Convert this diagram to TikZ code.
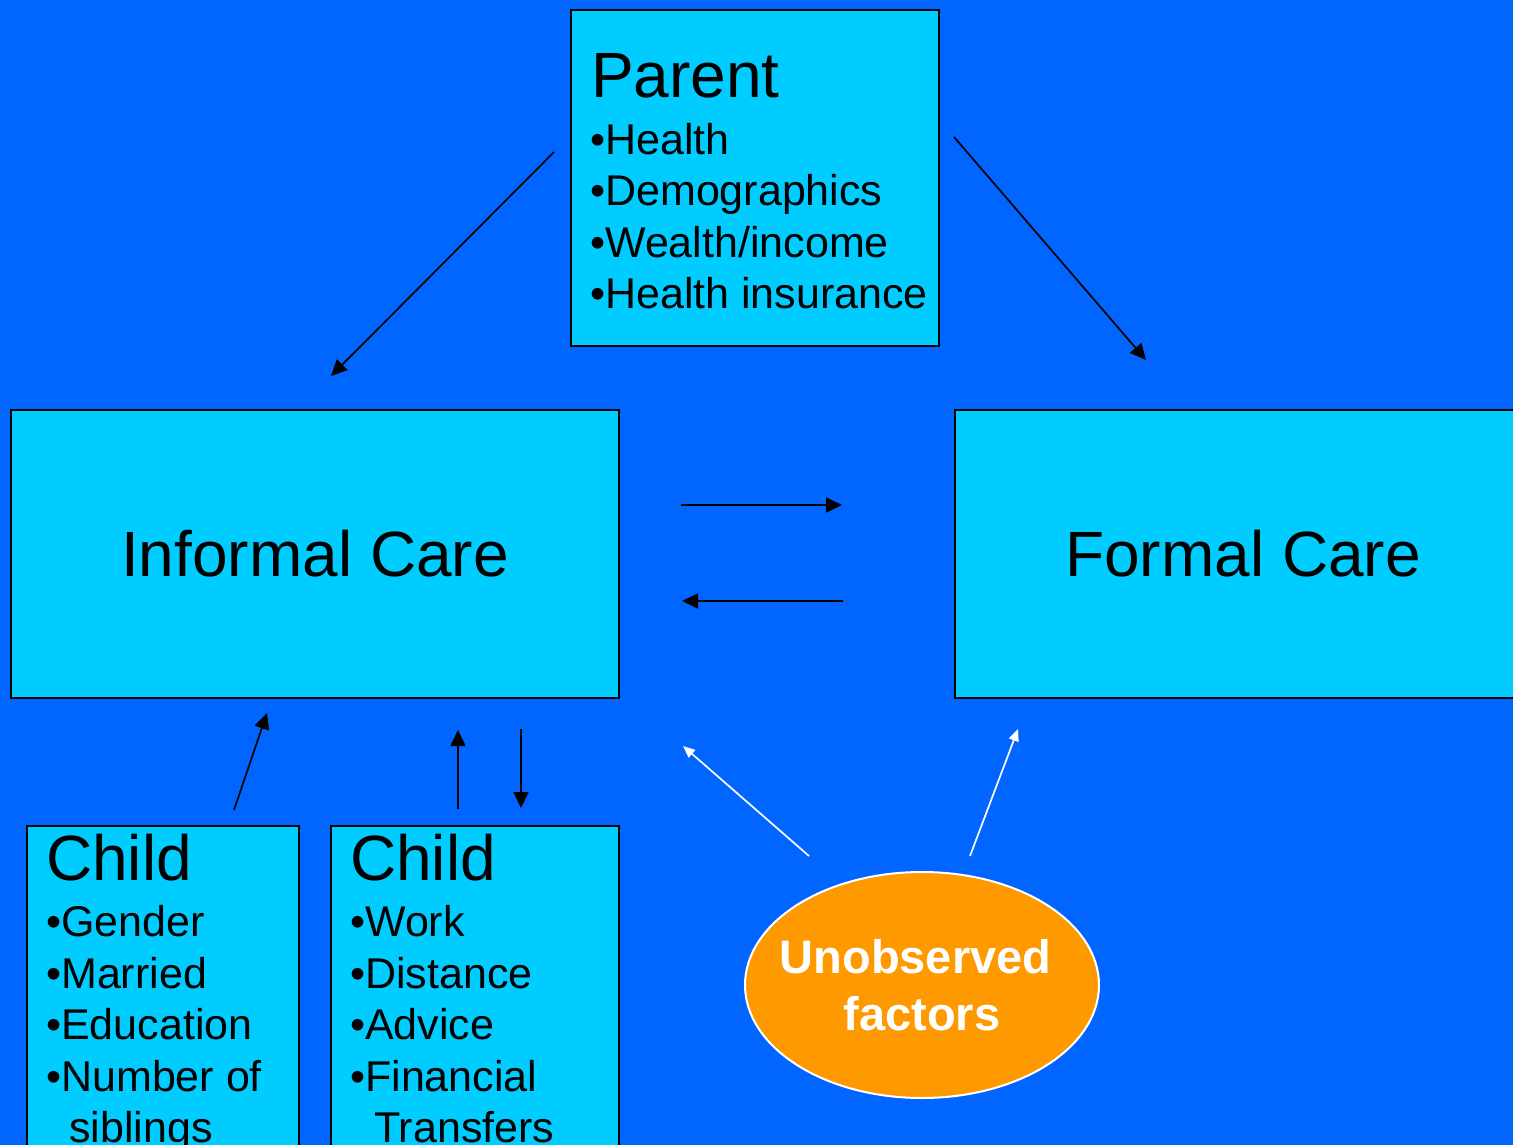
\documentclass[tikz,border=0pt]{standalone}
\usepackage{fontspec}
\setmainfont{Liberation Sans}
\usetikzlibrary{arrows.meta,shapes.geometric}
\definecolor{bgblue}{HTML}{0066FF}
\definecolor{boxcyan}{HTML}{00CCFF}
\definecolor{ovalorange}{HTML}{FF9900}
\begin{document}
\begin{tikzpicture}[x=1pt,y=-1pt,
  box/.style={draw=black,line width=2pt,fill=boxcyan,inner sep=0pt,anchor=north west},
  bigtext/.style={font=\fontsize{64}{77}\selectfont},
  title/.style={anchor=base west,inner sep=0pt,bigtext},
  item/.style={anchor=base west,inner sep=0pt,font=\fontsize{43}{52}\selectfont},
  blackarrow/.style={draw=black,line width=1.7pt,-{Triangle[length=16pt,width=15pt]}},
  whitearrow/.style={draw=white,line width=1.7pt,-{Triangle[length=12pt,width=10pt]}}]
\useasboundingbox (0,0) rectangle (1513,1145);
\clip (0,0) rectangle (1513,1145);
\fill[bgblue] (0,0) rectangle (1513,1145);

% boxes
\node[box,minimum width=368pt,minimum height=336pt] (parent) at (570,9) {};
\node[box,minimum width=608pt,minimum height=288pt,bigtext] (informal) at (10,409) {Informal Care};
\node[box,minimum width=576pt,minimum height=288pt,bigtext] (formal) at (954,409) {Formal Care};
\node[box,minimum width=272pt,minimum height=345pt] (childA) at (26,825) {};
\node[box,minimum width=288pt,minimum height=345pt] (childB) at (330,825) {};

% parent text
\node[title] (ptitle) at (591,98) {Parent};
\node[item] (p1) at (590,154) {•Health};
\node[item] (p2) at (590,205) {•Demographics};
\node[item] (p3) at (590,257) {•Wealth/income};
\node[item] (p4) at (590,308) {•Health insurance};

% child A text
\node[title] (catitle) at (46,880) {Child};
\node[item] (ca1) at (46,936) {•Gender};
\node[item] (ca2) at (46,988) {•Married};
\node[item] (ca3) at (46,1039) {•Education};
\node[item] (ca4) at (46,1091) {•Number of};
\node[item] (ca5) at (69,1142) {siblings};

% child B text
\node[title] (cbtitle) at (350,880) {Child};
\node[item] (cb1) at (350,936) {•Work};
\node[item] (cb2) at (350,988) {•Distance};
\node[item] (cb3) at (350,1039) {•Advice};
\node[item] (cb4) at (350,1091) {•Financial};
\node[item] (cb5) at (374,1142) {Transfers};

% ellipse
\node[ellipse,draw=white,line width=2pt,fill=ovalorange,minimum width=354pt,minimum height=226pt,
  inner sep=0pt] (unobs) at (922,985) {};
\node[text=white,align=center,inner sep=0pt,font=\bfseries\fontsize{47}{57}\selectfont] (unobstext)
  at (unobs.center) {Unobserved\hspace*{13pt}\\factors};

% arrow endpoints
\coordinate (a1s) at (554,152); \coordinate (a1e) at (331,376);
\coordinate (a2s) at (954,137); \coordinate (a2e) at (1146,360);
\coordinate (a3s) at (681,505); \coordinate (a3e) at (842,505);
\coordinate (a4s) at (843,601); \coordinate (a4e) at (682,601);
\coordinate (a5s) at (234,810); \coordinate (a5e) at (267,713);
\coordinate (a6s) at (458,809); \coordinate (a6e) at (458,730);
\coordinate (a7s) at (521,729); \coordinate (a7e) at (521,808);
\coordinate (w1s) at (809,856); \coordinate (w1e) at (683,746);
\coordinate (w2s) at (970,856); \coordinate (w2e) at (1018,729);

\draw[blackarrow] (a1s) -- (a1e);
\draw[blackarrow] (a2s) -- (a2e);
\draw[blackarrow] (a3s) -- (a3e);
\draw[blackarrow] (a4s) -- (a4e);
\draw[blackarrow] (a5s) -- (a5e);
\draw[blackarrow] (a6s) -- (a6e);
\draw[blackarrow] (a7s) -- (a7e);
\draw[whitearrow] (w1s) -- (w1e);
\draw[whitearrow] (w2s) -- (w2e);
\end{tikzpicture}
\end{document}
